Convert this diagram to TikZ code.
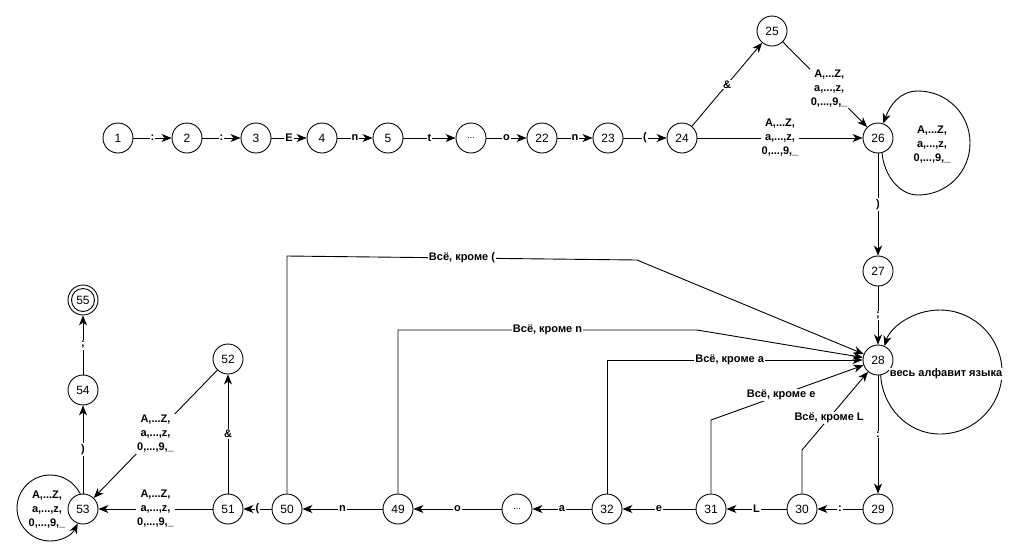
\documentclass[tikz,border=0pt]{standalone}
\usepackage{fontspec}
\setmainfont{Liberation Sans}
\usetikzlibrary{arrows.meta}
\begin{document}
\begin{tikzpicture}[x=1pt,y=-1pt,
  st/.style={circle,draw,line width=0.9pt,minimum size=30pt,inner sep=0pt,font=\fontsize{12}{14}\selectfont},
  dots/.style={st,font=\fontsize{9}{10}\selectfont},
  arr/.style={line width=0.9pt,-{Stealth[length=10pt,width=8pt,inset=3pt]}},
  lab/.style={fill=white,inner sep=1pt,font=\fontsize{11}{14}\selectfont\bfseries,align=center},
  plain/.style={line width=0.9pt}
]
\useasboundingbox (0,0) rectangle (1030,558);

% nodes
\node[st] (n1) at (118,138) {1};
\node[st] (n2) at (187,138) {2};
\node[st] (n3) at (256,138) {3};
\node[st] (n4) at (322,138) {4};
\node[st] (n5) at (388,138) {5};
\node[dots] (nd1) at (471,138) {...};
\node[st] (n22) at (542,138) {22};
\node[st] (n23) at (608,138) {23};
\node[st] (n24) at (682,138) {24};
\node[st] (n25) at (772,31) {25};
\node[st] (n26) at (878,138) {26};
\node[st] (n27) at (878,271) {27};
\node[st] (n28) at (878,360) {28};
\node[st] (n29) at (878,509) {29};
\node[st] (n30) at (802,509) {30};
\node[st] (n31) at (711,509) {31};
\node[st] (n32) at (607,509) {32};
\node[dots] (nd2) at (517,509) {...};
\node[st] (n49) at (398,509) {49};
\node[st] (n50) at (287,509) {50};
\node[st] (n51) at (228,509) {51};
\node[st] (n52) at (228,359) {52};
\node[st] (n53) at (83,509) {53};
\node[st] (n54) at (83,390) {54};
\node[st] (n55) at (83,300) {55};
\node[circle,draw,line width=0.9pt,minimum size=23pt,inner sep=0pt] (n55i) at (n55) {};

% top row
\draw[arr] (n1) -- node[lab]{:} (n2);
\draw[arr] (n2) -- node[lab]{:} (n3);
\draw[arr] (n3) -- node[lab]{E} (n4);
\draw[arr] (n4) -- node[lab]{n} (n5);
\draw[arr] (n5) -- node[lab]{t} (nd1);
\draw[arr] (nd1) -- node[lab]{o} (n22);
\draw[arr] (n22) -- node[lab]{n} (n23);
\draw[arr] (n23) -- node[lab]{(} (n24);
\draw[arr] (n24) -- node[lab]{\&} (n25);
\draw[arr] (n25) -- node[lab,pos=0.55]{A,...Z,\\a,...,z,\\0,...,9,\_} (n26);
\draw[arr] (n24) -- node[lab]{A,...Z,\\a,...,z,\\0,...,9,\_} (n26);

% loop 26
\draw[arr] (n26.-75) .. controls (884,175) and (899,195) .. (918,195)
  .. controls (947,195) and (970,172) .. (970,143)
  .. controls (970,114) and (947,91) .. (918,91)
  .. controls (900,91) and (890,105) .. (n26.70);
\node[lab,fill=none] (l26) at (932,145) {A,...Z,\\a,...,z,\\0,...,9,\_};

% right column
\draw[arr] (n26) -- node[lab]{)} (n27);
\draw[arr] (n27) -- node[lab]{;} (n28);
\draw[arr] (n28) -- node[lab]{:} (n29);

% loop 28
\draw[arr] (n28.-80) .. controls (882,405) and (906,434) .. (940,434)
  .. controls (974,434) and (1002,406) .. (1002,372)
  .. controls (1002,338) and (974,310) .. (940,310)
  .. controls (912,310) and (890,328) .. (n28.65);
\node[lab] (l28) at (946,374) {весь алфавит языка};

% bottom row
\draw[arr] (n29) -- node[lab]{:} (n30);
\draw[arr] (n30) -- node[lab]{L} (n31);
\draw[arr] (n31) -- node[lab]{e} (n32);
\draw[arr] (n32) -- node[lab]{a} (nd2);
\draw[arr] (nd2) -- node[lab]{o} (n49);
\draw[arr] (n49) -- node[lab]{n} (n50);
\draw[arr] (n50) -- node[lab]{(} (n51);
\draw[arr] (n51) -- node[lab]{A,...Z,\\a,...,z,\\0,...,9,\_} (n53);
\draw[arr] (n51) -- node[lab]{\&} (n52);
\draw[arr] (n52) -- node[lab]{A,...Z,\\a,...,z,\\0,...,9,\_} (n53);
\draw[arr] (n53) -- node[lab]{)} (n54);
\draw[arr] (n54) -- node[lab]{;} (n55);

% loop 53
\draw[arr] (n53.100) .. controls (74,482) and (63,475) .. (50,475)
  .. controls (32,475) and (17,490) .. (17,508)
  .. controls (17,526) and (32,541) .. (50,541)
  .. controls (62,541) and (72,535) .. (n53.-110);
\node[lab] (l53) at (47,510) {A,...Z,\\a,...,z,\\0,...,9,\_};

% back edges to 28
\draw[arr] (n50.north) -- (287,256) -- node[lab]{Всё, кроме (} (637,260) -- (n28);
\draw[arr] (n49.north) -- (398,330) -- node[lab]{Всё, кроме n} (697,330) -- (n28);
\draw[arr] (n32.north) -- (607,360) -- node[lab,pos=0.48]{Всё, кроме a} (n28);
\draw[arr] (n31.north) -- (711,420) -- node[lab,pos=0.46]{Всё, кроме e} (n28);
\draw[arr] (n30.north) -- (802,450) -- node[lab,pos=0.41]{Всё, кроме L} (n28);
\end{tikzpicture}
\end{document}
